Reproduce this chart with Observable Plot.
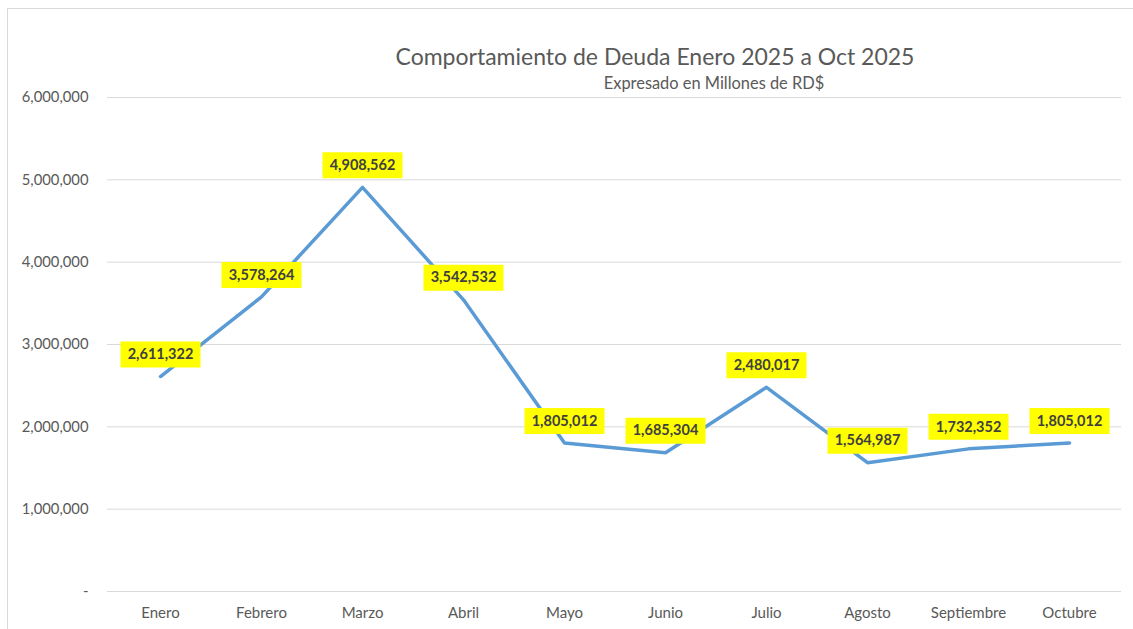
<!DOCTYPE html>
<html>
<head>
<meta charset="utf-8">
<script src="https://cdn.jsdelivr.net/npm/d3@7"></script>
<script src="https://cdn.jsdelivr.net/npm/@observablehq/plot@0.6"></script>
<style>
  html, body { margin: 0; padding: 0; background: #fff; }
  body { width: 1133px; height: 629px; position: relative; overflow: hidden; font-family: Lato, "Open Sans", sans-serif; }
  #frame { position: absolute; left: 7px; top: 8px; width: 1140px; height: 640px; border: 1px solid #d9d9d9; box-sizing: border-box; }
  #title { position: absolute; left: 0; width: 1310px; top: 42px; text-align: center; font-size: 23px; color: #595959; white-space: nowrap; }
  #subtitle { position: absolute; left: 0; width: 1428px; top: 73px; text-align: center; font-size: 16.4px; color: #595959; white-space: nowrap; }
  #chart { position: absolute; left: 0; top: 88px; }
</style>
</head>
<body>
<div id="frame"></div>
<div id="title">Comportamiento de Deuda Enero 2025 a Oct 2025</div>
<div id="subtitle">Expresado en Millones de RD$</div>
<div id="chart"></div>
<script>
const months = ["Enero", "Febrero", "Marzo", "Abril", "Mayo", "Junio", "Julio", "Agosto", "Septiembre", "Octubre"];
const deuda = [2611322, 3578264, 4908562, 3542532, 1805012, 1685304, 2480017, 1564987, 1732352, 1805012];
const yTicks = [0, 1000000, 2000000, 3000000, 4000000, 5000000, 6000000];

const data = months.map((m, i) => ({month: m, value: deuda[i]}));
const fmt = d3.format(",");
const labelBox = { draw(context) { context.rect(-40, -13, 80, 26); } };

const plot = Plot.plot({
  width: 1133,
  height: 541,
  marginLeft: 107,
  marginRight: 12,
  marginTop: 9,
  marginBottom: 38,
  style: { fontFamily: "Lato, 'Open Sans', sans-serif", color: "#595959", background: "transparent" },
  x: { type: "point", domain: months, padding: 0.5, label: null },
  y: { domain: [0, 6000000], label: null },
  marks: [
    Plot.gridY(yTicks, { stroke: "#d9d9d9", strokeOpacity: 1, strokeWidth: 1 }),
    Plot.axisY(yTicks, { tickSize: 0, tickPadding: 19, fontSize: 14.8, tickFormat: d => d === 0 ? "-" : fmt(d), fill: "#595959" }),
    Plot.axisX({ tickSize: 0, tickPadding: 16, fontSize: 15, fill: "#595959" }),
    Plot.line(data, { x: "month", y: "value", stroke: "#5B9BD5", strokeWidth: 3.5, strokeLinecap: "round", strokeLinejoin: "round" }),
    Plot.dot(data, { x: "month", y: "value", symbol: labelBox, fill: "#ffff00", stroke: null, dy: -22 }),
    Plot.text(data, { x: "month", y: "value", text: d => fmt(d.value), dy: -22, fontSize: 14.5, fontWeight: "bold", fill: "#404040" })
  ]
});
document.getElementById("chart").appendChild(plot);
</script>
</body>
</html>
